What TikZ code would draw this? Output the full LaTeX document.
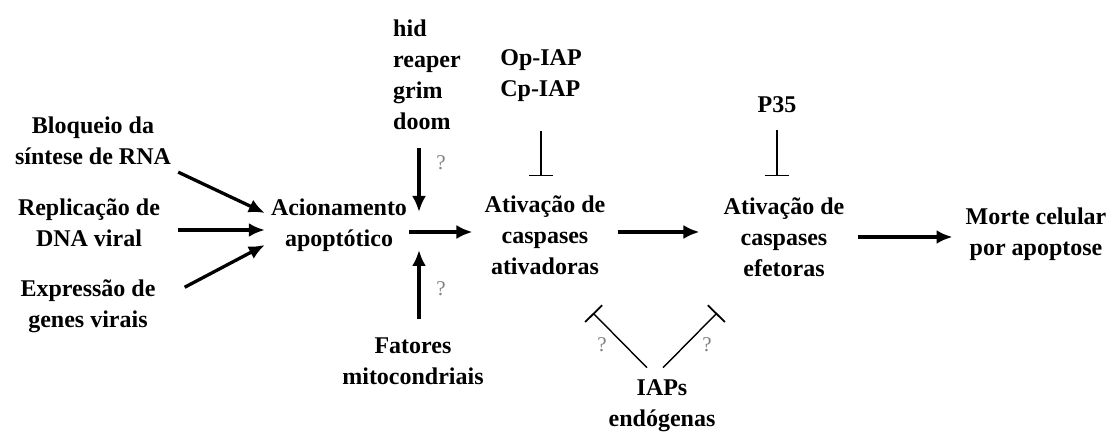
\documentclass[tikz,border=0pt]{standalone}
\usepackage{fontspec}
\setmainfont{Liberation Serif}
\usetikzlibrary{arrows.meta}
\begin{document}
\begin{tikzpicture}[x=1pt, y=-1pt, every node/.style={font=\fontsize{24}{31}\selectfont\bfseries, align=center, inner sep=2pt}, act/.style={line width=3.3pt, -{Latex[length=16pt,width=14pt]}}, inh/.style={line width=1.4pt, -{Bar[width=24pt,line width=1.8pt]}}, qm/.style={font=\fontsize{21}{24}\selectfont, text=black!50}]
	\useasboundingbox (0,0) rectangle (1117,435);
	% causes
	\node(bloq) at (93,141) {Bloqueio da\\síntese de RNA};
	\node(repl) at (89,223) {Replicação de\\DNA viral};
	\node(expr) at (88,306) {Expressão de\\genes virais};
	\node(acion) at (339,225) {Acionamento\\apoptótico};
	\node(hid) at (427,75) [align=left] {hid\\reaper\\grim\\doom};
	\node(fat) at (413,361) {Fatores\\mitocondriais};
	% caspases
	\node(opiap) at (541,76) [align=left] {Op-IAP\\Cp-IAP};
	\node(ativ1) at (545,235) {Ativação de\\caspases\\ativadoras};
	\node(p35) at (777,105) {P35};
	\node(ativ2) at (784,237) {Ativação de\\caspases\\efetoras};
	\node(morte) at (1036,234) {Morte celular\\por apoptose};
	\node(iaps) at (662,406) {IAPs\\endógenas};
	\node[qm](q1) at (441,163) {?};
	\node[qm](q2) at (441,289) {?};
	\node[qm](q3) at (602,345) {?};
	\node[qm](q4) at (707,345) {?};
	\coordinate(junc) at (419,232);
	\coordinate(iapL) at (593,313);
	\coordinate(iapR) at (717,313);
	% arrows
	\draw[act] ([shift={(5,5)}]bloq.south east) -- ([shift={(-4,-12)}]acion.west);
	\draw[act] ([shift={(16,7)}]repl.east) -- ([shift={(-4,5)}]acion.west);
	\draw[act] ([shift={(27,10)}]expr.north east) -- ([shift={(-4,20)}]acion.west);
	\draw[act, shorten <=16pt, shorten >=20pt] (hid.south -| junc) -- (junc);
	\draw[act, shorten <=16pt, shorten >=18pt] (fat.north -| junc) -- (junc);
	\draw[act, shorten >=10pt] (acion.east |- junc) -- (ativ1.west |- junc);
	\draw[act, shorten <=10pt, shorten >=22pt] (ativ1.east |- junc) -- (ativ2.west |- junc);
	\draw[act, shorten <=11pt, shorten >=11pt] (ativ2.east) -- (ativ2.east -| morte.west);
	% inhibitions
	\draw[inh, shorten <=27pt, shorten >=17pt] (opiap.south) -- (opiap.south |- ativ1.north);
	\draw[inh, shorten <=15pt, shorten >=19pt] (p35.south) -- (p35.south |- ativ2.north);
	\draw[inh] ([shift={(-15,-10)}]iaps.north) -- (iapL);
	\draw[inh] ([shift={(1,-10)}]iaps.north) -- (iapR);
\end{tikzpicture}
\end{document}
